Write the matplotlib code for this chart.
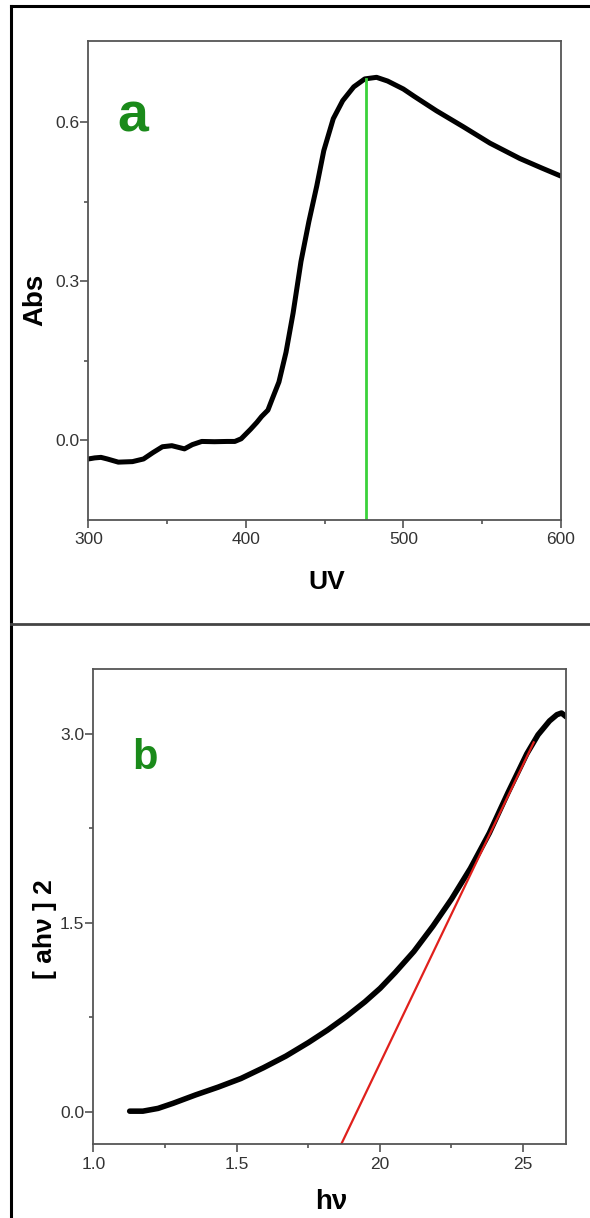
import matplotlib
matplotlib.use("Agg")
import matplotlib.pyplot as plt
import numpy as np
from matplotlib.lines import Line2D
from matplotlib.ticker import FixedLocator

plt.rcParams['font.family'] = ['Liberation Sans', 'DejaVu Sans']

# panel a: absorption spectrum
wavelength = [300, 304, 308, 312, 319, 328, 335, 341, 347, 353, 357, 361, 366, 372,
              380, 388, 393, 397, 403, 407, 410, 414, 417, 421, 425.5, 430, 435, 440,
              445, 449.5, 455.5, 461.5, 468.5, 475.5, 483, 490, 500, 507, 521, 538,
              555, 574, 588, 600]
absorbance = [-0.035, -0.033, -0.032, -0.035, -0.041, -0.040, -0.035, -0.023, -0.012,
              -0.010, -0.013, -0.016, -0.008, -0.002, -0.0025, -0.002, -0.002, 0.003,
              0.021, 0.034, 0.045, 0.057, 0.080, 0.110, 0.166, 0.240, 0.337, 0.412,
              0.479, 0.546, 0.606, 0.640, 0.666, 0.681, 0.684, 0.677, 0.662, 0.648,
              0.621, 0.591, 0.560, 0.531, 0.513, 0.498]
peak_wl = 476

# panel b: Tauc plot
energy = [1.127, 1.173, 1.226, 1.278, 1.357, 1.436, 1.515, 1.594, 1.672, 1.751, 1.817,
          1.883, 1.948, 2.001, 2.053, 2.119, 2.185, 2.250, 2.316, 2.382, 2.447, 2.513,
          2.552, 2.592, 2.618, 2.634, 2.651]
tauc = [0.003, 0.003, 0.025, 0.065, 0.132, 0.194, 0.262, 0.348, 0.440, 0.548, 0.646,
        0.754, 0.871, 0.978, 1.102, 1.271, 1.471, 1.686, 1.93, 2.21, 2.53, 2.84,
        2.99, 3.10, 3.15, 3.163, 3.132]
fit_x = [1.863, 2.537]
fit_y = [-0.27, 2.93]

a_xticks = [300, 400, 500, 600]
a_yticks = [0.0, 0.3, 0.6]
b_xticks = [1.0, 1.5, 2.0, 2.5]
b_xticklabels = ['1.0', '1.5', '20', '25']
b_yticks = [0.0, 1.5, 3.0]

fig = plt.figure(figsize=(5.9, 12.18), dpi=100)
W, H = 590, 1218

def style(ax):
    for s in ax.spines.values():
        s.set_color('#555555')
        s.set_linewidth(1.3)
    ax.tick_params(which='major', direction='out', length=6, width=1.1,
                   color='#444444', labelsize=12.5, pad=3)
    ax.tick_params(which='minor', direction='out', length=3, width=1.1, color='#444444')
    ax.tick_params(axis='y', pad=0.5)
    for lab in ax.get_xticklabels() + ax.get_yticklabels():
        lab.set_family(['Liberation Sans Narrow', 'Liberation Sans'])
        lab.set_color('#333333')

# ---- panel a
ax1 = fig.add_axes([88.4 / W, 1 - 520 / H, 472.4 / W, 479.3 / H])
ax1.plot(wavelength, absorbance, color='black', lw=3.6, solid_capstyle='round')
top = np.interp(peak_wl, wavelength, absorbance)
ax1.plot([peak_wl, peak_wl], [-0.15, top], color='#3ad23a', lw=2)
ax1.set_xlim(300, 600)
ax1.set_ylim(-0.15, 0.753)
ax1.set_xticks(a_xticks)
ax1.set_xticklabels([str(v) for v in a_xticks])
ax1.set_yticks(a_yticks)
ax1.set_yticklabels(['%.1f' % v for v in a_yticks])
ax1.xaxis.set_minor_locator(FixedLocator([350, 450, 550]))
ax1.yaxis.set_minor_locator(FixedLocator([0.15, 0.45]))
style(ax1)
ax1.set_xlabel('UV', fontsize=19, fontweight='bold')
ax1.xaxis.label.set_va('center')
ax1.xaxis.set_label_coords(0.504, -0.129)
ax1.set_ylabel('Abs', fontsize=20, fontweight='bold')
ax1.yaxis.label.set_va('center')
ax1.yaxis.set_label_coords(-0.113, 0.46)
ax1.text(0.094, 0.81, 'a', transform=ax1.transAxes, fontsize=40, fontweight='bold',
         color='#1a8a1a', ha='center', va='baseline')

# ---- panel b
ax2 = fig.add_axes([93.3 / W, 1 - 1144.3 / H, 473.1 / W, 475 / H])
ax2.plot(energy, tauc, color='black', lw=4, solid_capstyle='round')
ax2.plot(fit_x, fit_y, color='#e0201c', lw=1.6)
ax2.set_xlim(1.0, 2.651)
ax2.set_ylim(-0.26, 3.51)
ax2.set_xticks(b_xticks)
ax2.set_xticklabels(b_xticklabels)
ax2.set_yticks(b_yticks)
ax2.set_yticklabels(['%.1f' % v for v in b_yticks])
ax2.xaxis.set_minor_locator(FixedLocator([1.25, 1.75, 2.25]))
ax2.yaxis.set_minor_locator(FixedLocator([0.75, 2.25]))
style(ax2)
ax2.set_xlabel('h\u03bd', fontsize=20, fontweight='bold')
ax2.xaxis.label.set_va('baseline')
ax2.xaxis.set_label_coords(0.504, -0.136)
ax2.set_ylabel('[ ah\u03bd ] 2', fontsize=19, fontweight='bold')
ax2.yaxis.label.set_va('center')
ax2.yaxis.set_label_coords(-0.102, 0.453)
ax2.text(0.11, 0.79, 'b', transform=ax2.transAxes, fontsize=30, fontweight='bold',
         color='#1a8a1a', ha='center', va='baseline')

# outer frame lines
fig.add_artist(Line2D([10.7 / W, 10.7 / W], [0, 1 - 6.3 / H], color='black', lw=2.2))
fig.add_artist(Line2D([10.7 / W, 1], [1 - 6.3 / H, 1 - 6.3 / H], color='black', lw=2.2))
fig.add_artist(Line2D([10.7 / W, 1], [1 - 623.5 / H, 1 - 623.5 / H], color='#444444', lw=2))

fig.savefig('out.png', dpi=100)
